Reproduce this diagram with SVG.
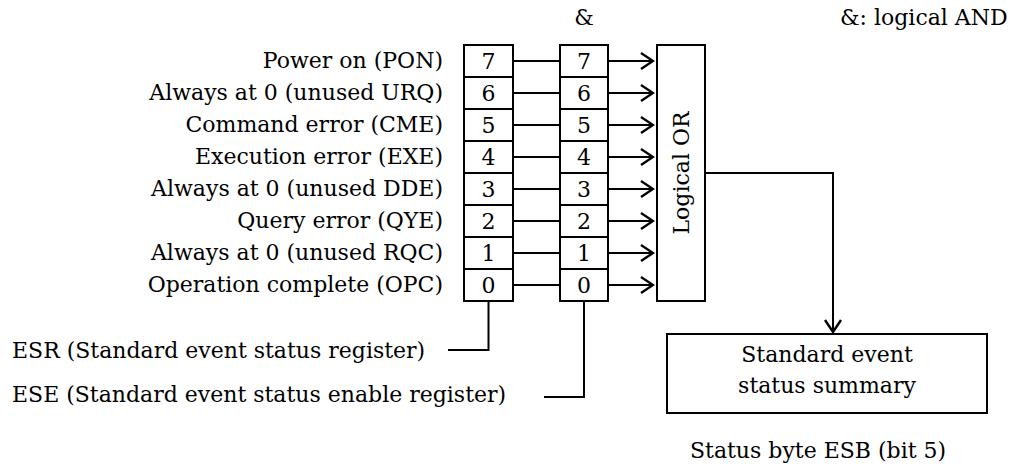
<svg xmlns="http://www.w3.org/2000/svg" width="1017" height="466" viewBox="0 0 1017 466">
<defs>
<style>
text{font-family:"DejaVu Serif","Liberation Serif",serif;font-size:22px;fill:#000}
.r{text-anchor:end}
.m{text-anchor:middle}
.box{fill:#fff;stroke:#000;stroke-width:2}
.ln{fill:none;stroke:#000;stroke-width:2}
.ar{fill:none;stroke:#000;stroke-width:2;marker-end:url(#ah)}
</style>
<marker id="ah" markerUnits="userSpaceOnUse" viewBox="0 0 15 19" refX="13" refY="9.5" markerWidth="15" markerHeight="19" orient="auto">
<path d="M1,1.5 L13,9.5 L1,17.5" fill="none" stroke="#000" stroke-width="2.4"/>
</marker>
</defs>
<rect width="1017" height="466" fill="#fff"/>
<g id="header">
<text class="m" x="584" y="25">&amp;</text>
<text x="840" y="25">&amp;: logical AND</text>
</g>
<g id="labels">
<text class="r" x="443" y="68">Power on (PON)</text>
<text class="r" x="443" y="100">Always at 0 (unused URQ)</text>
<text class="r" x="443" y="132">Command error (CME)</text>
<text class="r" x="443" y="164">Execution error (EXE)</text>
<text class="r" x="443" y="196">Always at 0 (unused DDE)</text>
<text class="r" x="443" y="228">Query error (QYE)</text>
<text class="r" x="443" y="260">Always at 0 (unused RQC)</text>
<text class="r" x="443" y="292">Operation complete (OPC)</text>
</g>
<g id="esr">
<rect class="box" x="464" y="45" width="49" height="256"/>
<path class="ln" d="M464,77H513M464,109H513M464,141H513M464,173H513M464,205H513M464,237H513M464,269H513"/>
<text class="m" x="488.5" y="69">7</text>
<text class="m" x="488.5" y="101">6</text>
<text class="m" x="488.5" y="133">5</text>
<text class="m" x="488.5" y="165">4</text>
<text class="m" x="488.5" y="197">3</text>
<text class="m" x="488.5" y="229">2</text>
<text class="m" x="488.5" y="261">1</text>
<text class="m" x="488.5" y="293">0</text>
</g>
<g id="ese">
<rect class="box" x="560" y="45" width="48" height="256"/>
<path class="ln" d="M560,77H608M560,109H608M560,141H608M560,173H608M560,205H608M560,237H608M560,269H608"/>
<text class="m" x="584" y="69">7</text>
<text class="m" x="584" y="101">6</text>
<text class="m" x="584" y="133">5</text>
<text class="m" x="584" y="165">4</text>
<text class="m" x="584" y="197">3</text>
<text class="m" x="584" y="229">2</text>
<text class="m" x="584" y="261">1</text>
<text class="m" x="584" y="293">0</text>
</g>
<g id="or">
<rect class="box" x="657" y="45" width="48" height="256"/>
<text class="m" transform="translate(689,173) rotate(-90)">Logical OR</text>
</g>
<g id="summary">
<rect class="box" x="667" y="334" width="320" height="79"/>
<text class="m" x="827" y="362">Standard event</text>
<text class="m" x="827" y="393">status summary</text>
</g>
<g id="captions">
<text x="12" y="358">ESR (Standard event status register)</text>
<text x="12" y="402">ESE (Standard event status enable register)</text>
<text x="690" y="458">Status byte ESB (bit 5)</text>
</g>
<g id="connectors">
<path class="ln" d="M513,61H560M513,93H560M513,125H560M513,157H560M513,189H560M513,221H560M513,253H560M513,285H560"/>
<path class="ar" d="M608,61H653"/>
<path class="ar" d="M608,93H653"/>
<path class="ar" d="M608,125H653"/>
<path class="ar" d="M608,157H653"/>
<path class="ar" d="M608,189H653"/>
<path class="ar" d="M608,221H653"/>
<path class="ar" d="M608,253H653"/>
<path class="ar" d="M608,285H653"/>
<path class="ar" d="M705,173H833V332"/>
<path class="ln" d="M488.5,301V350H448"/>
<path class="ln" d="M584,301V397H544"/>
</g>
</svg>
